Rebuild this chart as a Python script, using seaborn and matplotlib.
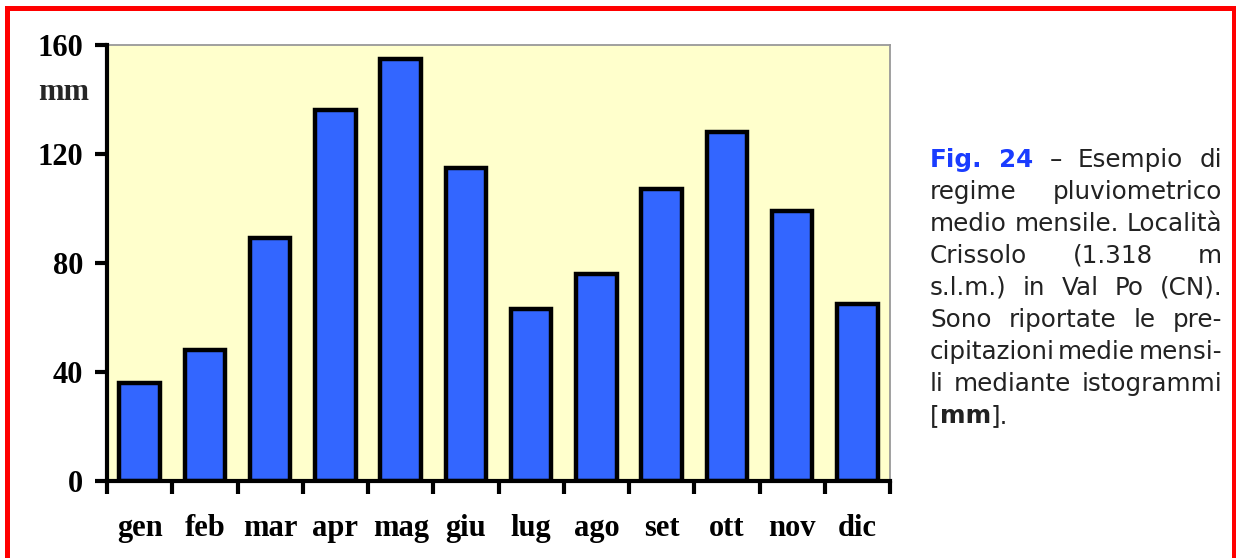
import numpy as np
import matplotlib
matplotlib.use("Agg")
import matplotlib.pyplot as plt
from matplotlib.lines import Line2D
import seaborn as sns

months = ["gen", "feb", "mar", "apr", "mag", "giu", "lug", "ago", "set", "ott", "nov", "dic"]
rain_mm = [36, 48, 89, 136, 155, 115, 63, 76, 107, 128, 99, 65]
y_ticks = [0, 40, 80, 120, 160]
y_unit = "mm"

caption_lines = [
    [[("Fig.", "bold", "#1a3cff")], [("24", "bold", "#1a3cff")], [("–", "normal", None)],
     [("Esempio", "normal", None)], [("di", "normal", None)]],
    [[("regime", "normal", None)], [("pluviometrico", "normal", None)]],
    [[("medio", "normal", None)], [("mensile.", "normal", None)], [("Località", "normal", None)]],
    [[("Crissolo", "normal", None)], [("(1.318", "normal", None)], [("m", "normal", None)]],
    [[("s.l.m.)", "normal", None)], [("in", "normal", None)], [("Val", "normal", None)],
     [("Po", "normal", None)], [("(CN).", "normal", None)]],
    [[("Sono", "normal", None)], [("riportate", "normal", None)], [("le", "normal", None)],
     [("pre-", "normal", None)]],
    [[("cipitazioni", "normal", None)], [("medie", "normal", None)], [("mensi-", "normal", None)]],
    [[("li", "normal", None)], [("mediante", "normal", None)], [("istogrammi", "normal", None)]],
    [[("[", "normal", None), ("mm", "bold", None), ("].", "normal", None)]],
]

W, H = 1236, 558
sns.set_theme(style="white")
plt.rcParams["font.family"] = ["DejaVu Sans"]

fig = plt.figure(figsize=(W / 100, H / 100), dpi=100)
fig.patch.set_facecolor("white")
ax = fig.add_axes([107 / W, 1 - 481 / H, (890 - 107) / W, (481 - 45) / H])
ax.set_facecolor("#FFFFCC")

sns.barplot(x=months, y=rain_mm, color="#3366FF", saturation=1, edgecolor="black",
            linewidth=3.2, width=0.62, ax=ax, zorder=2)

ax.set_xlim(-0.5, 11.5)
ax.set_ylim(0, 160)
ax.set_yticks(y_ticks)
ax.set_xlabel("")
ax.set_ylabel("")

for side in ["left", "bottom"]:
    ax.spines[side].set_color("black")
    ax.spines[side].set_linewidth(3)
    ax.spines[side].set_zorder(5)
for side in ["top", "right"]:
    ax.spines[side].set_color("#999999")
    ax.spines[side].set_linewidth(1.3)
    ax.spines[side].set_visible(True)

lab_size = 22
serif_bold = dict(family="Liberation Serif", weight="bold", size=lab_size)
ax.tick_params(axis="y", direction="out", length=9, width=3, color="black", pad=8, left=True)
ax.tick_params(axis="x", which="major", length=0, pad=24, bottom=True)
ax.set_xticks(np.arange(-0.5, 12, 1), minor=True)
ax.tick_params(axis="x", which="minor", direction="out", length=9, width=3, color="black", bottom=True)
for lab in ax.get_yticklabels() + ax.get_xticklabels():
    lab.set_fontfamily("Liberation Serif")
    lab.set_fontweight("bold")
    lab.set_fontsize(lab_size)
    lab.set_color("black")

fig.text(64 / W, 1 - 92 / H, y_unit, ha="center", va="center", **serif_bold)

# red frame
red_kw = dict(color="red", linewidth=3.6, solid_capstyle="projecting", transform=fig.transFigure)
fig.add_artist(Line2D([6.5 / W, 1233.5 / W], [1 - 8 / H, 1 - 8 / H], **red_kw))
fig.add_artist(Line2D([6.5 / W, 6.5 / W], [1 - 8 / H, -0.02], **red_kw))
fig.add_artist(Line2D([1233.5 / W, 1233.5 / W], [1 - 8 / H, -0.02], **red_kw))

# justified caption
renderer = fig.canvas.get_renderer()
x_left, x_right = 930, 1222
body_color = "#222222"

def seg_width(txt, weight, size):
    t = fig.text(0, 0, txt, fontsize=size, fontweight=weight, family="DejaVu Sans")
    w = t.get_window_extent(renderer).width
    t.remove()
    return w

def word_width(word, size):
    return sum(seg_width(s, wt, size) for s, wt, _ in word)

# scale font so the naturally set 3rd line fills the column
ref_line = caption_lines[2]
ref_size = 10
sp = seg_width("a a", "normal", ref_size) - 2 * seg_width("a", "normal", ref_size)
nat = sum(word_width(w, ref_size) for w in ref_line) + sp * (len(ref_line) - 1)
cap_size = ref_size * (x_right - x_left) / nat

for i, line in enumerate(caption_lines):
    y_base = 160 + 32 * i + 7
    widths = [word_width(w, cap_size) for w in line]
    last = i == len(caption_lines) - 1
    if len(line) > 1 and not last:
        gap = (x_right - x_left - sum(widths)) / (len(line) - 1)
    else:
        gap = seg_width("a a", "normal", cap_size) - 2 * seg_width("a", "normal", cap_size)
    x = x_left
    for word, ww in zip(line, widths):
        xs = x
        for s, wt, col in word:
            fig.text(xs / W, 1 - y_base / H, s, fontsize=cap_size, fontweight=wt,
                     family="DejaVu Sans", color=col or body_color, ha="left", va="baseline")
            xs += seg_width(s, wt, cap_size)
        x += ww + gap

fig.savefig("out.png", dpi=100, facecolor="white")
